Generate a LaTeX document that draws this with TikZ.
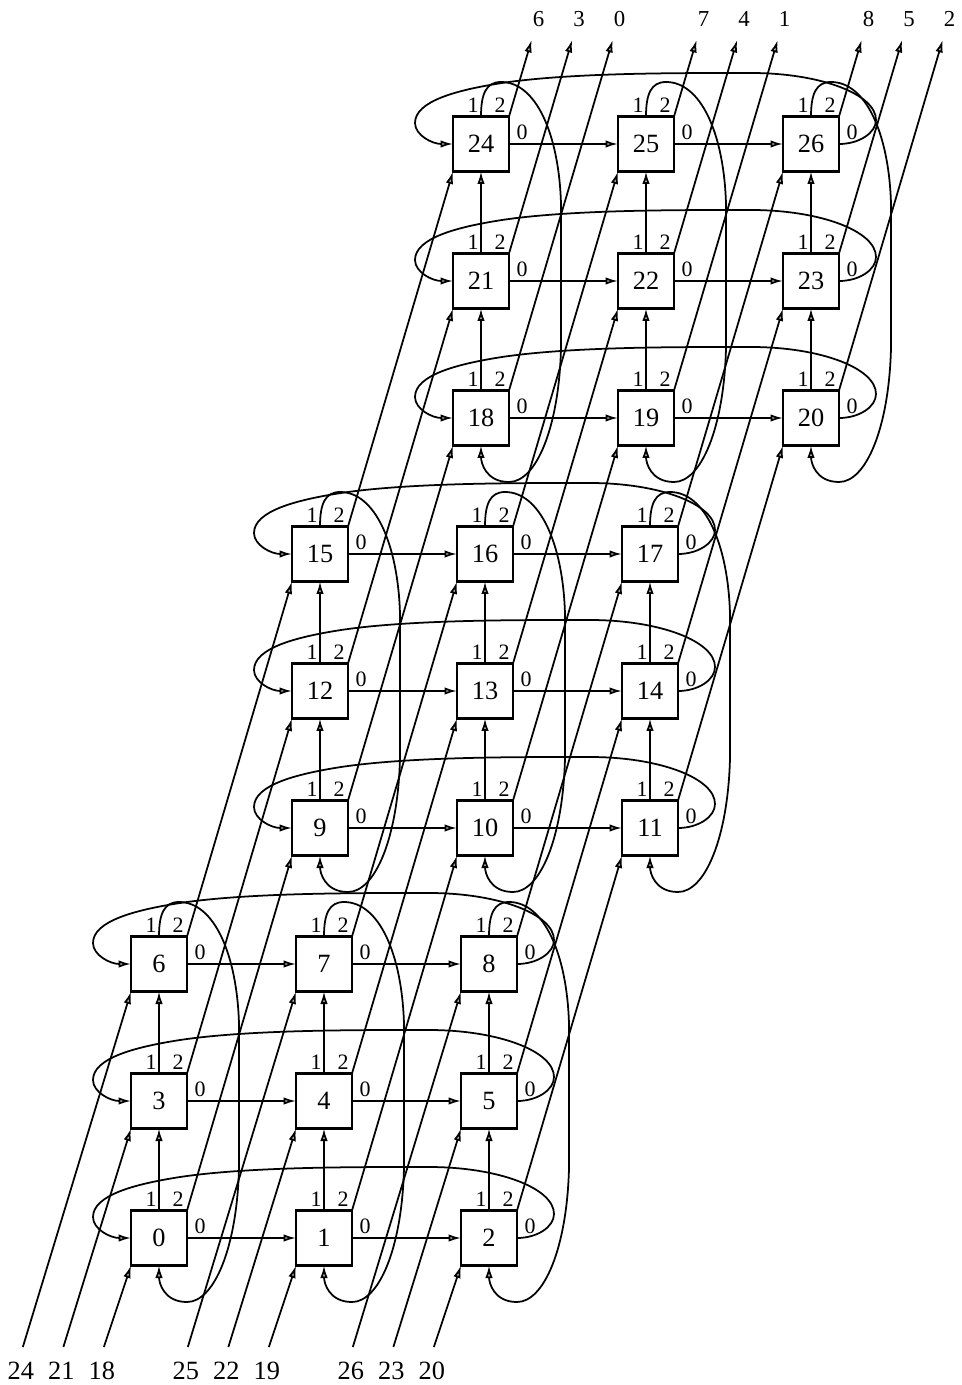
\documentclass[tikz,border=0pt]{standalone}
\usepackage{fontspec}
\setmainfont{Liberation Serif}
\usetikzlibrary{arrows.meta}
\begin{document}
\begin{tikzpicture}[x=0.02cm,y=-0.02cm,
  box/.style={draw, line width=1.2pt, fill=white, minimum width=1.12cm, minimum height=1.1cm, inner sep=0pt, outer sep=0pt, font=\fontsize{15}{15}\selectfont},
  port/.style={font=\fontsize{12.5}{12.5}\selectfont, inner sep=0pt},
  toplab/.style={font=\fontsize{13}{13}\selectfont, inner sep=0pt},
  botlab/.style={font=\fontsize{15}{15}\selectfont, inner sep=0pt},
  arr/.style={line width=1pt, -{Latex[length=0.25cm,width=0.15cm,fill=gray!45]}},
]
\useasboundingbox (0,0) rectangle (961,1385);
% nodes and port labels
\foreach \z in {0,1,2}{
 \foreach \y in {0,1,2}{
  \foreach \x in {0,1,2}{
   \pgfmathsetmacro\X{159+165*\x+161*\z}
   \pgfmathsetmacro\Y{1238-137*\y-410*\z}
   \pgfmathtruncatemacro\n{9*\z+3*\y+\x}
   \node[box] (n\n) at (\X,\Y) {\n};
   \node[port] (pa\n) at (\X-8,\Y-39) {1};
   \node[port] (pb\n) at (\X+19,\Y-39) {2};
   \node[port] (pc\n) at (\X+41,\Y-12) {0};
  }
 }
}
% output 0 (straight)
\foreach \z in {0,1,2}{
 \foreach \y in {0,1,2}{
  \foreach \x in {0,1}{
   \pgfmathtruncatemacro\n{9*\z+3*\y+\x}
   \pgfmathtruncatemacro\m{\n+1}
   \draw[arr] (n\n.east) -- (n\m.west);
  }
 }
}
% output 1 (straight)
\foreach \z in {0,1,2}{
 \foreach \y in {0,1}{
  \foreach \x in {0,1,2}{
   \pgfmathtruncatemacro\n{9*\z+3*\y+\x}
   \pgfmathtruncatemacro\m{\n+3}
   \draw[arr] (n\n.north) -- (n\m.south);
  }
 }
}
% output 2 (straight, block to block)
\foreach \z in {0,1}{
 \foreach \y in {0,1,2}{
  \foreach \x in {0,1,2}{
   \pgfmathtruncatemacro\n{9*\z+3*\y+\x}
   \pgfmathtruncatemacro\m{\n+9}
   \draw[arr] (n\n.north east) -- (n\m.south west);
  }
 }
}
% output 0 wrap loops
\foreach \z in {0,1,2}{
 \foreach \y in {0,1,2}{
   \pgfmathsetmacro\Xa{159+161*\z}
   \pgfmathsetmacro\Xb{\Xa+330}
   \pgfmathsetmacro\Y{1238-137*\y-410*\z}
   \pgfmathtruncatemacro\nl{9*\z+3*\y}
   \pgfmathtruncatemacro\nr{\nl+2}
   \draw[arr] (n\nr.east) .. controls (\Xb+48,\Y) and (\Xb+65,\Y-11) .. (\Xb+65,\Y-24)
     .. controls (\Xb+65,\Y-50) and (\Xb+9,\Y-71) .. (\Xb-60,\Y-71)
     .. controls (\Xa+200,\Y-71) and (\Xa+91,\Y-71.5) .. (\Xa+21,\Y-61)
     .. controls (\Xa-24,\Y-54) and (\Xa-66,\Y-43) .. (\Xa-66,\Y-21)
     .. controls (\Xa-66,\Y-9) and (\Xa-49,\Y) .. (n\nl.west);
 }
}
% output 1 wrap loops
\foreach \z in {0,1,2}{
 \foreach \x in {0,1,2}{
   \pgfmathsetmacro\X{159+165*\x+161*\z}
   \pgfmathsetmacro\Yt{1238-274-410*\z}
   \pgfmathsetmacro\Yb{1238-410*\z}
   \pgfmathtruncatemacro\nb{9*\z+\x}
   \pgfmathtruncatemacro\nt{\nb+6}
   \draw[arr] (n\nt.north) .. controls (\X,\Yt-50) and (\X+5,\Yt-62) .. (\X+20,\Yt-62)
     .. controls (\X+55,\Yt-62) and (\X+78,\Yt-10) .. (\X+80,\Yt+60)
     -- (\X+80,\Yb-70)
     .. controls (\X+78,\Yb+10) and (\X+55,\Yb+64) .. (\X+28,\Yb+64)
     .. controls (\X+5,\Yb+64) and (\X,\Yb+45) .. (n\nb.south);
 }
}
% output 2 wrap: leaving at the top
\foreach \y in {0,1,2}{
 \foreach \x in {0,1,2}{
   \pgfmathsetmacro\X{159+165*\x+322}
   \pgfmathsetmacro\Y{1238-137*\y-820}
   \pgfmathsetmacro\tx{\X+28+0.2958*(\Y-27.5-40)}
   \pgfmathtruncatemacro\n{18+3*\y+\x}
   \pgfmathtruncatemacro\m{3*\y+\x}
   \coordinate (t\n) at (\tx,40);
   \draw[arr] (n\n.north east) -- (t\n);
   \node[toplab] (tl\n) at (\tx+7,19) {\m};
 }
}
% output 2 wrap: entering at the bottom
\foreach \y in {0,1,2}{
 \foreach \x in {0,1,2}{
   \pgfmathsetmacro\X{159+165*\x}
   \pgfmathsetmacro\Y{1238-137*\y}
   \pgfmathsetmacro\bx{\X-28-0.2958*(1347-\Y-27.5)-3}
   \pgfmathtruncatemacro\n{3*\y+\x}
   \pgfmathtruncatemacro\s{\n+18}
   \coordinate (b\n) at (\bx,1347);
   \draw[arr] (b\n) -- (n\n.south west);
   \node[botlab] (bl\n) at (\bx-2,1371) {\s};
 }
}
\end{tikzpicture}
\end{document}
